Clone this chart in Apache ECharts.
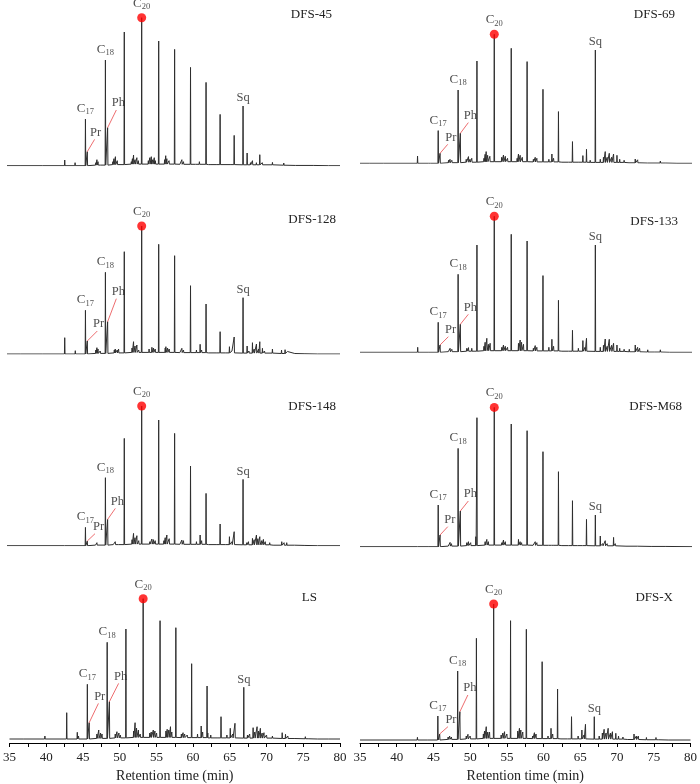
<!DOCTYPE html>
<html><head><meta charset="utf-8">
<script src="https://cdn.jsdelivr.net/npm/echarts@6/dist/echarts.min.js"></script>
<style>html,body{margin:0;padding:0;background:#fff}#c{width:700px;height:784px}</style>
</head><body><div id="c"></div>
<script>
// ---------- DATA ----------
const samples = ['DFS-45','DFS-69','DFS-128','DFS-133','DFS-148','DFS-M68','LS','DFS-X'];
const peakNames = ['C17','Pr','C18','Ph','C19','C20','C21','C22','C23','C24','C25','C26','Sq'];
const peakTimes = [45.6, 45.85, 48.3, 48.6, 50.85, 53.2, 55.5, 57.65, 59.8, 61.9, 63.8, 65.7, 66.9];
// peak heights (relative intensity) per sample, same order as peakNames
const h_DFS45  = [46.7, 14, 105.7, 38, 133.7, 148, 124.7, 116.3, 98.3, 83.3, 51.3, 30.3, 59.7];
const h_DFS69  = [32.7, 10, 73.3, 30, 102.3, 129, 115, 101.7, 74, 51.7, 21.7, 14, 113.3];
const h_DFS128 = [43.7, 13, 81.7, 32.3, 102.3, 128, 109.7, 98.3, 68.3, 50, 22.3, 17, 56.3];
const h_DFS133 = [30, 7.3, 78, 28, 107.3, 136, 118, 111.3, 76.7, 52, 22, 14, 107.3];
const h_DFS148 = [18.3, 4.7, 68, 26.3, 107.3, 139.7, 125.7, 112.3, 79.7, 52.3, 21.7, 14, 66.3];
const h_DFSM68 = [41.7, 11.7, 98.3, 35.7, 129, 139.3, 122.7, 116, 95, 75, 46, 27.3, 31.7];
const h_LS     = [54.7, 16.3, 96.7, 37.3, 110, 140.3, 118.3, 111.3, 75.3, 53, 22.3, 15.7, 51.7];
const h_DFSX   = [24, 6, 69, 28.3, 101.7, 136, 119.3, 110.7, 78.3, 51, 23.3, 15.7, 23.3];
// minor (unlabelled) peaks: [retention time, height]
const m_DFS45 = [[36.8,1],[39.8,1],[42.8,5.7],[44.2,3],[44.4,1.5],[47.0,3],[47.15,6],[47.3,4],[47.6,2],[49.3,4],[49.45,7],[49.65,9],[49.9,5],[50.1,3],[51.8,4],[51.95,7],[52.1,10.7],[52.3,6],[52.55,8],[52.75,5],[54.1,5],[54.3,8],[54.5,9],[54.7,6],[54.9,8],[55.05,5],[56.3,6],[56.45,10],[56.6,7],[56.9,5],[58.4,3],[58.63,6],[58.85,4],[59.1,3],[60.5,3],[61.0,4],[62.2,3],[62.6,2],[63.3,2],[64.5,2],[65.3,2],[67.45,12.7],[67.9,3],[68.17,5],[68.7,3],[69.16,11],[69.5,3],[70.87,3.3],[72.4,2.7],[74,1.5],[76.5,1.5],[78.5,1.2]];
const m_DFS69 = [[36.3,1],[38.2,1],[42.8,7.3],[44.3,2],[44.5,1.5],[47.0,3],[47.2,4],[47.45,3],[49.4,4],[49.7,6.7],[49.9,4],[50.15,5],[51.8,5],[51.96,9],[52.1,11.7],[52.3,8],[52.6,7],[54.2,6],[54.45,8.3],[54.7,7],[55.0,5],[56.3,5],[56.48,9.3],[56.71,8],[57.0,6],[58.5,4],[58.75,6],[58.97,5],[60.6,4],[61.01,9.3],[61.24,5],[62.4,3],[63.3,2.5],[64.7,3],[65.21,7.7],[66.2,3],[67.57,4],[68.0,6],[68.24,11.7],[68.5,6],[68.79,10],[69.1,6],[69.37,9.3],[69.83,8],[70.2,4],[70.8,3],[71.5,2],[72.31,4.3],[72.63,3.5],[72.9,2.5],[74.0,2],[75.71,2.3],[76.5,1.5],[78,1]];
const m_DFS128 = [[36.9,1],[39.8,1],[42.8,16.3],[44.23,3.3],[44.5,1.5],[47.0,4],[47.15,6.3],[47.3,5],[47.6,3],[49.5,4],[49.63,5],[49.9,4],[50.08,5],[51.9,6],[52.1,12.3],[52.3,8],[52.55,9],[52.8,4],[54.2,5],[54.58,6.7],[54.8,6],[55.03,5],[56.38,6],[56.47,7.3],[56.7,6],[56.92,5],[58.4,3],[58.63,5.7],[58.85,4],[60.6,4],[61.1,9.7],[61.3,4],[62.2,3],[63.3,2],[64.6,3],[65.06,7.3],[65.4,3],[67.45,8],[67.7,3],[68.17,11.3],[68.4,5],[68.71,10],[69.0,5],[69.16,12.3],[69.52,5.7],[69.8,3],[70.87,5],[72.1,4],[72.58,4.3],[72.9,2.5],[73.93,2.3],[75.3,1.8],[77,1.2]];
const m_DFS133 = [[42.82,5],[44.27,1],[47.0,2],[47.21,4],[47.45,3],[49.47,4],[49.7,4.7],[50.15,4],[51.8,6],[51.96,10],[52.19,14],[52.4,8],[52.64,9],[54.22,5],[54.45,7.3],[54.7,6],[55.0,5],[56.48,9],[56.71,12.3],[56.9,10],[57.16,8],[58.5,4],[58.75,6.7],[58.97,5],[60.6,5],[61.01,13],[61.24,6],[62.4,3],[63.3,3],[64.6,4],[65.21,11.7],[65.5,5],[67.57,5],[68.0,7],[68.24,13.3],[68.5,6],[68.79,13],[69.1,7],[69.37,9],[69.83,7.3],[70.2,4],[70.8,3],[71.5,3],[72.31,7.3],[72.63,5],[72.9,4],[74.0,2.5],[75.0,2],[75.71,2.5],[77,1.5]];
const m_DFS148 = [[42.8,1.3],[44.23,1],[47.0,2],[47.15,3],[47.4,2],[49.4,3],[49.63,4],[49.9,3],[50.1,3],[51.9,6],[52.1,12.3],[52.3,8],[52.55,10],[52.8,5],[54.3,4],[54.58,6.7],[54.8,6],[55.03,5],[56.2,5],[56.38,8],[56.6,10.7],[56.92,7],[58.4,3],[58.63,5.7],[58.85,5],[60.6,4],[61.1,10.7],[61.3,5],[62.2,3],[63.3,2],[64.6,3],[65.06,9],[65.4,4],[67.4,3],[67.63,4],[68.17,7.3],[68.4,6],[68.71,10.7],[68.9,7],[69.16,9],[69.4,5],[69.65,6.3],[69.9,4],[70.5,3],[71.0,2.5],[72.13,4],[72.44,3],[72.8,3],[73.9,2],[75.3,2],[77,1.2]];
const m_DFSM68 = [[42.82,2],[44.27,1],[47.0,2],[47.21,4.3],[47.4,3],[49.47,4],[49.7,5],[50.0,4],[50.7,10],[51.96,5],[52.19,7.3],[52.4,5],[54.22,4],[54.45,6.7],[54.7,5],[56.48,7.3],[56.71,5],[56.9,4],[58.5,3],[58.75,5],[58.97,4],[60.6,2.5],[61.01,3.3],[61.24,3],[62.4,2],[63.3,2],[64.5,2],[65.21,3],[67.57,10.7],[67.9,3],[68.24,6],[68.5,3],[69.37,9.3],[69.6,3],[71.09,2.3],[72.63,2],[74.5,1.2],[76.5,1]];
const m_LS = [[36.9,1],[39.82,3],[42.79,26.3],[44.23,6.7],[44.4,3],[46.9,5],[47.15,9],[47.4,6],[47.6,5],[49.4,5],[49.63,7.3],[49.9,6],[50.1,4],[51.9,8],[52.1,16.3],[52.3,11],[52.55,9],[52.8,5],[54.1,6],[54.3,7],[54.58,9],[54.8,8],[55.03,6],[56.3,8],[56.47,9.7],[56.7,9],[56.92,12.3],[57.1,7],[58.4,5],[58.63,6.3],[58.85,5],[59.2,4],[60.6,5],[61.1,13],[61.3,7],[62.0,6],[62.4,4],[63.3,3],[64.6,4],[65.06,10.7],[65.4,5],[67.4,4],[67.7,5],[68.17,11.3],[68.4,7],[68.71,12.3],[68.9,8],[69.16,10.7],[69.4,6],[69.65,6.3],[70.0,4],[70.8,3],[72.13,6.3],[72.58,4.7],[72.9,3],[73.9,2.5],[75.28,2.3],[75.7,2],[77,1.5],[78.5,1.2]];
const m_DFSX = [[42.82,2.7],[44.27,1],[47.0,3],[47.21,4],[47.45,3],[49.47,4],[49.7,5.7],[50.0,4],[51.8,6],[51.96,9],[52.19,13.3],[52.4,8],[52.64,8],[54.22,5],[54.45,7],[54.68,8.3],[55.0,6],[56.48,9],[56.71,11.7],[56.9,10],[57.16,8],[58.5,4],[58.75,7.3],[58.97,6],[60.6,4],[61.01,11.7],[61.24,6],[62.4,3],[63.3,3],[64.7,4],[65.21,10],[65.5,5],[67.57,4],[68.0,7],[68.24,10.7],[68.5,7],[68.79,11.7],[69.1,7],[69.37,8.3],[69.83,6.7],[70.2,4],[70.8,3],[71.5,2.5],[72.31,6],[72.63,4],[72.9,4],[74.0,2.5],[75.3,2.5],[75.71,2],[77,1.5]];
// unresolved baseline level: [time from which it applies, level]
const baseLevels = [[35,0],[46.5,0.6],[49,1.1],[51.5,1.6],[58,1.4],[62,1.1],[66,0.9],[71,0.5],[74,0.25],[77,0]];
const xMin = 35, xMax = 80, xStep = 5;
const xAxisTitle = 'Retention time (min)';

const heights = [h_DFS45, h_DFS69, h_DFS128, h_DFS133, h_DFS148, h_DFSM68, h_LS, h_DFSX];
const minors  = [m_DFS45, m_DFS69, m_DFS128, m_DFS133, m_DFS148, m_DFSM68, m_LS, m_DFSX];

// ---------- LAYOUT (pixels) ----------
const colLeft = [7, 360], colWidth = [333, 332];
const baselineY = [165.7, 163.3, 354, 352.3, 545.7, 546.7, 739, 740];
const axisY = 743;
const plotH = 158;
const namePos = [[332,15],[675,15],[336,220],[678,222],[336,407],[682,407],[317,598],[673,598]];
// Pr / Ph leader line offsets in px: [dx, dy]
const prOff = [[7.3,12.3],[7.7,9],[10,10],[8.3,8.3],[7.7,7.3],[7.7,8.3],[9.3,19.3],[8.3,7.3]];
const phOff = [[8.7,17.7],[8,10.7],[8.7,23],[8,10],[7.7,11],[8,10],[9.3,18.3],[8,16.7]];
const prLabelShift = [1, 3, 1.3, 2.3, 3.5, 2, 1.3, 3];
const phLabelShift = [2, 2, 2, 2, 2, 2, 2, 2];

const FONT = '"Liberation Serif", "Times New Roman", serif';
const INK = '#222';

function levelAt(t) {
  let v = 0;
  baseLevels.forEach(([bt, bv]) => { if (t >= bt) v = bv; });
  return v;
}
function traceData(times, hs, minor) {
  const pts = times.map((t, i) => [t, hs[i]]).concat(minor.map(p => [p[0], p[1]]));
  pts.sort((a, b) => a[0] - b[0]);
  const w = 0.04;
  const d = [[xMin, 0]];
  pts.forEach(([t, h]) => { const b = levelAt(t); d.push([t - w, b], [t, h], [t + w, b]); });
  d.push([xMax, 0]);
  return d;
}

const grids = [], xAxes = [], yAxes = [], series = [], graphics = [];
const rich = {
  c: { fontSize: 13, fontFamily: FONT, color: INK },
  s: { fontSize: 8.5, fontFamily: FONT, color: INK, padding: [7, 0, 0, 0] }
};

samples.forEach((name, i) => {
  const col = i % 2, row = Math.floor(i / 2);
  const base = baselineY[i];
  const bottom = row < 3 ? base : axisY;
  const top = base - plotH;
  grids.push({ left: colLeft[col], width: colWidth[col], top: top, height: bottom - top });
  const isBottom = row === 3;
  xAxes.push({
    gridIndex: i, type: 'value', min: xMin, max: xMax, interval: xStep,
    show: true,
    axisLine: { show: isBottom, onZero: false, lineStyle: { color: '#000', width: 1 } },
    axisTick: { show: isBottom, length: 4, lineStyle: { color: '#000' } },
    minorTick: { show: isBottom, splitNumber: 2, length: 4, lineStyle: { color: '#000' } },
    axisLabel: { show: isBottom, fontFamily: FONT, fontSize: 13, color: INK, margin: 8 },
    splitLine: { show: false },
    name: isBottom ? xAxisTitle : '', nameLocation: 'middle', nameGap: 26,
    nameTextStyle: { fontFamily: FONT, fontSize: 14, color: INK }
  });
  yAxes.push({ gridIndex: i, type: 'value', min: base - bottom, max: plotH, show: false });

  const hs = heights[i];
  series.push({
    type: 'line', xAxisIndex: i, yAxisIndex: i, data: traceData(peakTimes, hs, minors[i]),
    showSymbol: false, silent: true, animation: false,
    lineStyle: { color: '#2e2e2e', width: 1 }, z: 2
  });

  const pxToMin = (xMax - xMin) / colWidth[col];
  const idx = n => peakNames.indexOf(n);
  [['Pr', prOff[i], prLabelShift[i]], ['Ph', phOff[i], phLabelShift[i]]].forEach(([n, off, sh]) => {
    const k = idx(n), t = peakTimes[k], h = hs[k];
    const end = [t + off[0] * pxToMin, h + off[1]];
    series.push({
      type: 'line', xAxisIndex: i, yAxisIndex: i, animation: false, silent: true,
      data: [[t, h], end], showSymbol: false, lineStyle: { color: '#e8474a', width: 0.8 }, z: 3
    });
    series.push({
      type: 'scatter', xAxisIndex: i, yAxisIndex: i, animation: false, silent: true,
      symbolSize: 1, itemStyle: { color: 'rgba(0,0,0,0)' },
      data: [{ value: end, label: { show: true, position: 'top', distance: 0, offset: [sh, 0], formatter: n,
        fontFamily: FONT, fontSize: 12.5, color: INK } }], z: 4
    });
  });
  const lab = [];
  [['C17', 2], ['C18', 2], ['Sq', 1]].forEach(([n, dist]) => {
    const k = idx(n);
    const txt = n === 'Sq' ? 'Sq' : '{c|C}{s|' + n.slice(1) + '}';
    lab.push({ value: [peakTimes[k], hs[k]], label: { show: true, position: 'top', distance: dist, formatter: txt, rich: rich,
      fontFamily: FONT, fontSize: 12.5, color: INK } });
  });
  const k20 = idx('C20');
  lab.push({ value: [peakTimes[k20], hs[k20]], label: { show: true, position: 'top', distance: 6, formatter: '{c|C}{s|20}', rich: rich } });
  series.push({
    type: 'scatter', xAxisIndex: i, yAxisIndex: i, animation: false, silent: true,
    symbolSize: 1, itemStyle: { color: 'rgba(0,0,0,0)' }, data: lab, z: 4
  });
  series.push({
    type: 'scatter', xAxisIndex: i, yAxisIndex: i, animation: false, silent: true,
    symbol: 'circle', symbolSize: 9, itemStyle: { color: '#ff0000' },
    data: [[peakTimes[k20], hs[k20]]], z: 5
  });
  graphics.push({
    type: 'text', x: namePos[i][0], y: namePos[i][1],
    style: { text: name, font: '13px ' + FONT, fill: INK, textAlign: 'right', textVerticalAlign: 'middle' }
  });
});

const chart = echarts.init(document.getElementById('c'), null, { renderer: 'canvas' });
chart.setOption({
  animation: false,
  backgroundColor: '#fff',
  grid: grids, xAxis: xAxes, yAxis: yAxes, series: series, graphic: graphics
});
</script></body></html>
